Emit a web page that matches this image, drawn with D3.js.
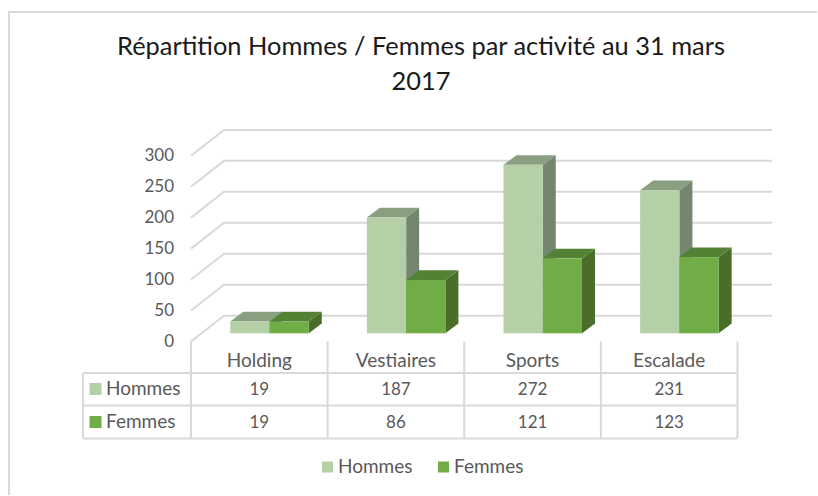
<!DOCTYPE html>
<meta charset="utf-8">
<style>
    body { margin: 0; background: #fff; }
    svg { display: block; }
    text { font-family: Lato, sans-serif; fill: #595959; }
    .title { font-size: 25.4px; fill: #1a1a1a; text-anchor: middle; }
    .tick-label { font-size: 17px; text-anchor: end; }
    .cell { font-size: 17px; text-anchor: middle; }
    .cell.cat { font-size: 19px; }
    .word { font-size: 19px; }
    .grid { stroke: #d9d9d9; stroke-width: 2; fill: none; }
    .tbl { stroke: #d9d9d9; stroke-width: 2; fill: none; }
</style>
<svg class="chart" width="818" height="496"></svg>
<script src="https://d3js.org/d3.v7.min.js"></script>
<script>

    const categories = ["Holding", "Vestiaires", "Sports", "Escalade"];
    const seriesNames = ["Hommes", "Femmes"];
    const hommes = [19, 187, 272, 231];
    const femmes = [19, 86, 121, 123];
    const yTicks = [0, 50, 100, 150, 200, 250, 300];
    const titleLines = ["Répartition Hommes / Femmes par activité au 31 mars", "2017"];

    const colors = {
        Hommes: {front: "#b5cfa6", top: "#8a9e80", side: "#748570"},
        Femmes: {front: "#70ad47", top: "#548235", side: "#4a6e2a"}
    };

    const svg = d3.select(".chart");

    // front plane of the 3d box, the back wall is shifted by depth
    const depth = {dx: 33, dy: -25.8};
    const barDepth = {dx: 13, dy: -9.7};
    const barShift = {dx: 10.2, dy: -8.2};

    const x = d3.scaleBand().domain(categories).range([191, 737.5]);
    const y = d3.scaleLinear().domain([0, 300]).range([341.5, 155.7]);
    const inner = d3.scaleBand().domain(seriesNames).range([0, 78.5]);

    // chart frame, only top and left show in the crop
    svg.append("path")
        .attr("d", d3.line()([[817, 12], [9, 12], [9, 495]]))
        .attr("fill", "none")
        .attr("stroke", "#d9d9d9")
        .attr("stroke-width", 2);

    svg.selectAll(".title")
        .data(titleLines)
        .join("text")
        .attr("class", "title")
        .attr("x", 421)
        .attr("y", (d, i) => 55 + i * 35)
        .text(d => d);

    // walls
    svg.selectAll(".grid")
        .data(yTicks)
        .join("path")
        .attr("class", "grid")
        .attr("d", d => d3.line()([
            [x.range()[0], y(d)],
            [x.range()[0] + depth.dx, y(d) + depth.dy],
            [772, y(d) + depth.dy]
        ]));

    svg.selectAll(".tick-label")
        .data(yTicks)
        .join("text")
        .attr("class", "tick-label")
        .attr("x", 174)
        .attr("y", d => y(d) + 5.5)
        .text(d => d);

    // bars
    const rows = seriesNames.map((name, s) => ({name, values: s === 0 ? hommes : femmes}));

    const barData = [];
    categories.forEach((c, i) => {
        rows.forEach(r => barData.push({category: c, name: r.name, value: r.values[i]}));
    });

    const pad = (x.bandwidth() - inner.range()[1]) / 2;

    const bar = svg.selectAll("g.bar")
        .data(barData)
        .join("g")
        .attr("class", "bar")
        .attr("transform", d => {
            const px = x(d.category) + pad + inner(d.name) + barShift.dx;
            return "translate(" + px + "," + barShift.dy + ")";
        });

    const w = inner.bandwidth();

    bar.append("polygon")
        .attr("fill", d => colors[d.name].side)
        .attr("points", d => [
            [w, y(d.value)], [w + barDepth.dx, y(d.value) + barDepth.dy],
            [w + barDepth.dx, y(0) + barDepth.dy], [w, y(0)]
        ].join(" "));

    bar.append("polygon")
        .attr("fill", d => colors[d.name].top)
        .attr("points", d => [
            [0, y(d.value)], [barDepth.dx, y(d.value) + barDepth.dy],
            [w + barDepth.dx, y(d.value) + barDepth.dy], [w, y(d.value)]
        ].join(" "));

    bar.append("rect")
        .attr("fill", d => colors[d.name].front)
        .attr("y", d => y(d.value))
        .attr("width", w)
        .attr("height", d => y(0) - y(d.value));

    // redraw the Femmes bars last so their side covers the neighbour's wall
    svg.selectAll("g.bar").filter(d => d.name === "Femmes").raise();

    // data table
    const rowY = d3.scalePoint().domain(seriesNames).range([389, 422]);
    const tableTop = 373, tableBottom = 438.5, tableLeft = 83;
    const x1 = x.range()[1];

    const table = svg.append("g");

    [tableTop, rowY("Hommes") + 16.5, tableBottom].forEach(ly => {
        table.append("path").attr("class", "tbl")
            .attr("d", d3.line()([[tableLeft, ly], [x1, ly]]));
    });
    table.append("path").attr("class", "tbl")
        .attr("d", d3.line()([[tableLeft, tableTop], [tableLeft, tableBottom]]));

    [...categories.map(c => x(c)), x1].forEach(lx => {
        table.append("path").attr("class", "tbl")
            .attr("d", d3.line()([[lx, y(0)], [lx, tableBottom]]));
    });

    table.selectAll(".cat")
        .data(categories)
        .join("text")
        .attr("class", "cell cat")
        .attr("x", d => x(d) + x.bandwidth() / 2)
        .attr("y", 367)
        .text(d => d);

    rows.forEach(r => {
        table.selectAll(".v" + r.name)
            .data(r.values)
            .join("text")
            .attr("class", "cell v" + r.name)
            .attr("x", (d, i) => x(categories[i]) + x.bandwidth() / 2)
            .attr("y", rowY(r.name) + 5.5)
            .text(d => d);

        table.append("rect")
            .attr("x", 89.5)
            .attr("y", rowY(r.name) - 6)
            .attr("width", 12)
            .attr("height", 12)
            .attr("fill", colors[r.name].front);

        table.append("text")
            .attr("class", "word")
            .attr("x", 106)
            .attr("y", rowY(r.name) + 5.5)
            .text(r.name);
    });

    // legend
    const legendX = d3.scaleOrdinal().domain(seriesNames).range([322, 438]);

    const legend = svg.selectAll("g.legend")
        .data(seriesNames)
        .join("g")
        .attr("class", "legend")
        .attr("transform", d => "translate(" + legendX(d) + ",467)");

    legend.append("rect")
        .attr("y", -5.5)
        .attr("width", 11)
        .attr("height", 11)
        .attr("fill", d => colors[d].front);

    legend.append("text")
        .attr("class", "word")
        .attr("x", 16)
        .attr("y", 6)
        .text(d => d);

</script>
